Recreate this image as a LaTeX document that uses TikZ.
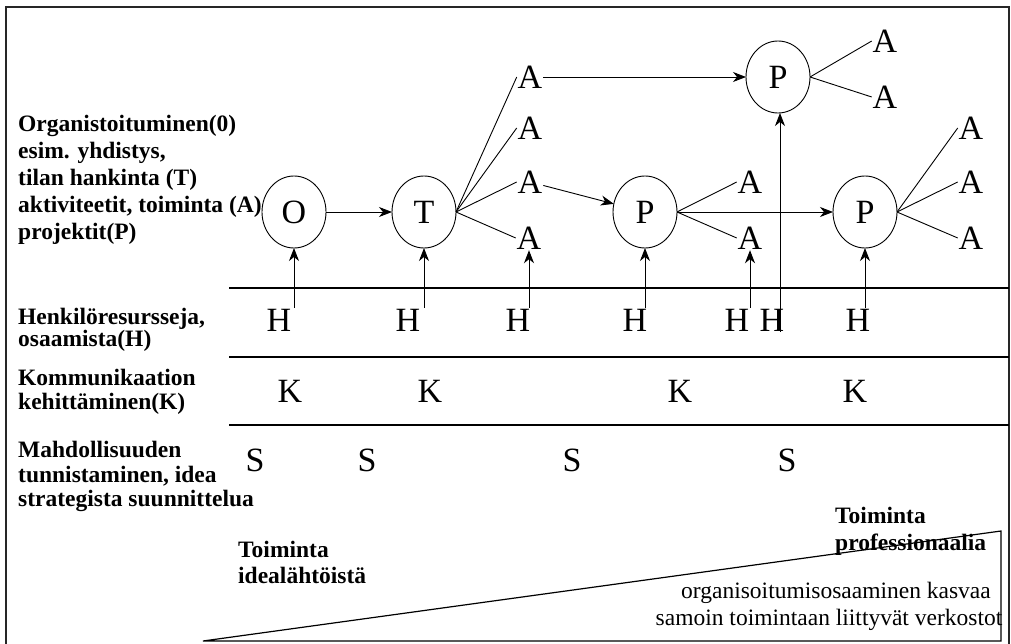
\documentclass[tikz,border=0pt]{standalone}
\usepackage{fontspec}
\setmainfont{Liberation Serif}
\usetikzlibrary{shapes.geometric,arrows.meta}

\begin{document}
\begin{tikzpicture}[x=1pt,y=-1pt,
  big/.style={font=\fontsize{34}{40}\selectfont, inner sep=1pt, outer sep=0pt},
  oval/.style={ellipse, draw, line width=0.9pt, minimum width=64pt, minimum height=72pt,
               inner sep=0pt, outer sep=0pt, font=\fontsize{34}{40}\selectfont},
  lbl/.style={font=\fontsize{23.5}{27}\selectfont\bfseries, inner sep=0pt, anchor=base west},
  txt/.style={font=\fontsize{23.5}{27}\selectfont, inner sep=0pt, anchor=base},
  conn/.style={line width=0.9pt},
  arr/.style={line width=0.9pt, -{Stealth[length=13pt,width=10pt,inset=4pt]}},
  rule/.style={line width=1.2pt}]

\useasboundingbox (0,0) rectangle (1011,644);

% outer frame
\draw[line width=2pt, black!85] (6,7) rectangle (1009,700);

% row separators
\draw[rule] (229,288) -- (1009,288);
\draw[rule] (229,357) -- (1009,357);
\draw[rule] (229,425) -- (1009,425);

% growth wedge
\draw[line width=1.2pt, line join=miter] (203,641) -- (1001,531) -- (1001,641) -- cycle;

% row labels
\node[lbl] (l1) at (18,132) {Organistoituminen(0)};
\node[lbl] (l2) at (18,159) {esim. yhdistys,};
\node[lbl] (l3) at (18,186) {tilan hankinta (T)};
\node[lbl] (l4) at (18,213) {aktiviteetit, toiminta (A)};
\node[lbl] (l5) at (18,240) {projektit(P)};
\node[lbl] (l6) at (18,324) {Henkilöresursseja,};
\node[lbl] (l7) at (18,346) {osaamista(H)};
\node[lbl] (l8) at (18,385) {Kommunikaation};
\node[lbl] (l9) at (18,409) {kehittäminen(K)};
\node[lbl] (l10) at (18,457) {Mahdollisuuden};
\node[lbl] (l11) at (18,482) {tunnistaminen, idea};
\node[lbl] (l12) at (18,506) {strategista suunnittelua};

% wedge captions
\node[lbl] (w1) at (238,557) {Toiminta};
\node[lbl] (w2) at (238,583) {idealähtöistä};
\node[lbl] (w3) at (835,523) {Toiminta};
\node[lbl] (w4) at (835,550) {professionaalia};
\node[txt] (w5) at (836,598) {organisoitumisosaaminen kasvaa};
\node[txt] (w6) at (829,625) {samoin toimintaan liittyvät verkostot};

% main chain
\node[oval] (O)  at (294,212) {O};
\node[oval] (T)  at (424,212) {T};
\node[oval] (P1) at (645,212) {P};
\node[oval] (P2) at (865,212) {P};
\node[oval] (P0) at (778,77)  {P};

% activities
\node[big] (a1) at (530,77)  {A};
\node[big] (a2) at (530,128) {A};
\node[big] (a3) at (530,182) {A};
\node[big] (a4) at (529,238) {A};
\node[big] (b1) at (750,182) {A};
\node[big] (b2) at (750,238) {A};
\node[big] (c1) at (971,128) {A};
\node[big] (c2) at (971,182) {A};
\node[big] (c3) at (971,238) {A};
\node[big] (d1) at (885,41)  {A};
\node[big] (d2) at (885,97)  {A};

% human resources
\node[big] (h1) at (279,320) {H};
\node[big] (h2) at (408,320) {H};
\node[big] (h3) at (518,320) {H};
\node[big] (h4) at (635,320) {H};
\node[big] (h5) at (737,320) {H};
\node[big] (h6) at (772,320) {H};
\node[big] (h7) at (858,320) {H};

% communication
\node[big] (k1) at (290,391) {K};
\node[big] (k2) at (430,391) {K};
\node[big] (k3) at (680,391) {K};
\node[big] (k4) at (855,391) {K};

% opportunities
\node[big] (s1) at (255,460) {S};
\node[big] (s2) at (367,460) {S};
\node[big] (s3) at (572,460) {S};
\node[big] (s4) at (787,460) {S};

% chain arrows
\draw[arr] (O) -- (T);
\draw[arr] (a1) -- (P0);
\draw[arr] (a3) -- (P1);
\draw[arr] (P1) -- (P2);

% branches
\foreach \n in {a1,a2,a3,a4} \draw[conn] (T.east) -- (\n.west);
\foreach \n in {b1,b2} \draw[conn] (P1.east) -- (\n.west);
\foreach \n in {c1,c2,c3} \draw[conn] (P2.east) -- (\n.west);
\foreach \n in {d1,d2} \draw[conn] (P0.east) -- (\n.west);

% resource arrows
\draw[arr] (O.south |- h1.north) -- (O.south);
\draw[arr] (T.south |- h2.north) -- (T.south);
\draw[arr] (a4.south |- h3.north) -- (a4.south);
\draw[arr] (P1.south |- h4.north) -- (P1.south);
\draw[arr] (b2.south |- h5.north) -- (b2.south);
\draw[arr] ([xshift=2pt]P0.south |- h6.south) -- ([xshift=2pt]P0.south);
\draw[arr] (P2.south |- h7.north) -- (P2.south);

\end{tikzpicture}
\end{document}
